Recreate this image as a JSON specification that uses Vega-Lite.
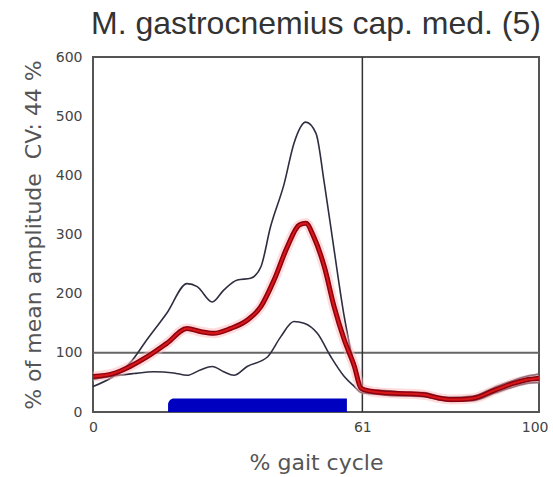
{
  "$schema": "https://vega.github.io/schema/vega-lite/v6.json",
  "width": 446,
  "height": 355,
  "autosize": "none",
  "padding": {"left": 93, "top": 57, "right": 14, "bottom": 65},
  "background": "white",
  "title": {"text": "M. gastrocnemius cap. med. (5)", "font": "Liberation Sans", "fontSize": 32, "fontWeight": "normal", "color": "#333333", "offset": 9, "anchor": "middle"},
  "config": {
    "view": {"stroke": "#555555", "strokeWidth": 2},
    "axis": {"grid": false, "ticks": false, "domain": false, "labelFont": "DejaVu Sans", "labelFontSize": 14, "labelColor": "#444444", "titleFont": "DejaVu Sans", "titleFontSize": 22, "titleFontWeight": "normal", "titleColor": "#555555"}
  },
  "datasets": {
    "curves": [
      {"s": "upper", "x": 0, "y": 43}, {"s": "upper", "x": 4.6, "y": 60}, {"s": "upper", "x": 8.4, "y": 83}, {"s": "upper", "x": 12.2, "y": 122}, {"s": "upper", "x": 16.7, "y": 167}, {"s": "upper", "x": 21.3, "y": 217}, {"s": "upper", "x": 23.6, "y": 212}, {"s": "upper", "x": 27, "y": 186}, {"s": "upper", "x": 29.6, "y": 206}, {"s": "upper", "x": 32.7, "y": 223}, {"s": "upper", "x": 35.7, "y": 226}, {"s": "upper", "x": 38, "y": 245}, {"s": "upper", "x": 40.2, "y": 313}, {"s": "upper", "x": 43.3, "y": 386}, {"s": "upper", "x": 45.5, "y": 454}, {"s": "upper", "x": 48.2, "y": 490}, {"s": "upper", "x": 50.5, "y": 471}, {"s": "upper", "x": 52.4, "y": 386}, {"s": "upper", "x": 54.6, "y": 274}, {"s": "upper", "x": 56.9, "y": 161}, {"s": "upper", "x": 59.2, "y": 77}, {"s": "upper", "x": 60.7, "y": 40}, {"s": "upper", "x": 63, "y": 37}, {"s": "upper", "x": 67, "y": 36}, {"s": "upper", "x": 71, "y": 33}, {"s": "upper", "x": 75, "y": 33}, {"s": "upper", "x": 78, "y": 27}, {"s": "upper", "x": 81, "y": 25}, {"s": "upper", "x": 86, "y": 27}, {"s": "upper", "x": 91, "y": 42}, {"s": "upper", "x": 95, "y": 53}, {"s": "upper", "x": 98, "y": 60}, {"s": "upper", "x": 101, "y": 64},
      {"s": "mean", "x": 0, "y": 60}, {"s": "mean", "x": 4.6, "y": 65}, {"s": "mean", "x": 8.4, "y": 77}, {"s": "mean", "x": 12.2, "y": 93}, {"s": "mean", "x": 16.7, "y": 116}, {"s": "mean", "x": 21.3, "y": 141}, {"s": "mean", "x": 24.3, "y": 136}, {"s": "mean", "x": 27.3, "y": 133}, {"s": "mean", "x": 31.1, "y": 141}, {"s": "mean", "x": 34.9, "y": 155}, {"s": "mean", "x": 38, "y": 178}, {"s": "mean", "x": 41, "y": 223}, {"s": "mean", "x": 44, "y": 279}, {"s": "mean", "x": 46.7, "y": 316}, {"s": "mean", "x": 48.2, "y": 319}, {"s": "mean", "x": 50, "y": 296}, {"s": "mean", "x": 52.4, "y": 245}, {"s": "mean", "x": 54.6, "y": 178}, {"s": "mean", "x": 56.9, "y": 122}, {"s": "mean", "x": 59.2, "y": 77}, {"s": "mean", "x": 60.7, "y": 40}, {"s": "mean", "x": 63, "y": 35}, {"s": "mean", "x": 67, "y": 32}, {"s": "mean", "x": 71, "y": 31}, {"s": "mean", "x": 75, "y": 29}, {"s": "mean", "x": 78, "y": 24}, {"s": "mean", "x": 81, "y": 21}, {"s": "mean", "x": 86, "y": 23}, {"s": "mean", "x": 91, "y": 37}, {"s": "mean", "x": 95, "y": 48}, {"s": "mean", "x": 98, "y": 54}, {"s": "mean", "x": 101, "y": 57},
      {"s": "lower", "x": 0, "y": 55}, {"s": "lower", "x": 4.6, "y": 61}, {"s": "lower", "x": 9.2, "y": 65}, {"s": "lower", "x": 13.7, "y": 68}, {"s": "lower", "x": 18.3, "y": 66}, {"s": "lower", "x": 21.3, "y": 62}, {"s": "lower", "x": 24.3, "y": 71}, {"s": "lower", "x": 27, "y": 77}, {"s": "lower", "x": 29.6, "y": 68}, {"s": "lower", "x": 31.9, "y": 62}, {"s": "lower", "x": 34.9, "y": 77}, {"s": "lower", "x": 39.5, "y": 93}, {"s": "lower", "x": 42.5, "y": 127}, {"s": "lower", "x": 45.5, "y": 153}, {"s": "lower", "x": 47.8, "y": 150}, {"s": "lower", "x": 50.8, "y": 133}, {"s": "lower", "x": 53.9, "y": 93}, {"s": "lower", "x": 56.9, "y": 60}, {"s": "lower", "x": 59.2, "y": 43}, {"s": "lower", "x": 60.7, "y": 33}, {"s": "lower", "x": 63, "y": 31}, {"s": "lower", "x": 67, "y": 28}, {"s": "lower", "x": 71, "y": 27}, {"s": "lower", "x": 75, "y": 26}, {"s": "lower", "x": 78, "y": 21}, {"s": "lower", "x": 81, "y": 18}, {"s": "lower", "x": 86, "y": 19}, {"s": "lower", "x": 91, "y": 32}, {"s": "lower", "x": 95, "y": 42}, {"s": "lower", "x": 98, "y": 48}, {"s": "lower", "x": 101, "y": 50}
    ],
    "bar": [{"start": 17, "end": 57.5, "low": 0, "high": 23}],
    "refs": [{"kind": "h", "v": 100}, {"kind": "v", "v": 61}]
  },
  "layer": [
    {
      "data": {"name": "bar"},
      "mark": {"type": "rect", "color": "#0000c0", "cornerRadiusTopLeft": 6},
      "encoding": {
        "x": {"field": "start", "type": "quantitative", "title": "% gait cycle", "scale": {"domain": [0, 101], "nice": false, "zero": false}, "axis": {"values": [0, 61, 100], "labelPadding": 8, "titlePadding": 18, "labelFlush": false}},
        "x2": {"field": "end"},
        "y": {"field": "low", "type": "quantitative", "title": "% of mean amplitude\u00a0 CV: 44 %", "scale": {"domain": [0, 600], "nice": false}, "axis": {"values": [0, 100, 200, 300, 400, 500, 600], "labelPadding": 11, "titlePadding": 10, "labelFlush": false}},
        "y2": {"field": "high"}
      }
    },
    {
      "data": {"name": "refs"},
      "transform": [{"filter": "datum.kind === 'h'"}],
      "mark": {"type": "rule", "color": "#666666", "strokeWidth": 2},
      "encoding": {"y": {"field": "v", "type": "quantitative", "title": "% of mean amplitude\u00a0 CV: 44 %"}}
    },
    {
      "data": {"name": "refs"},
      "transform": [{"filter": "datum.kind === 'v'"}],
      "mark": {"type": "rule", "color": "#333333", "strokeWidth": 1.5},
      "encoding": {"x": {"field": "v", "type": "quantitative", "title": "% gait cycle"}}
    },
    {
      "data": {"name": "curves"},
      "transform": [{"filter": "datum.s !== 'mean'"}],
      "mark": {"type": "line", "color": "#2e2e40", "strokeWidth": 1.6, "interpolate": "monotone"},
      "encoding": {"x": {"field": "x", "type": "quantitative", "title": "% gait cycle"}, "y": {"field": "y", "type": "quantitative", "title": "% of mean amplitude\u00a0 CV: 44 %"}, "detail": {"field": "s"}}
    },
    {
      "data": {"name": "curves"},
      "transform": [{"filter": "datum.s === 'mean'"}],
      "mark": {"type": "line", "color": "#ffb8b8", "strokeWidth": 10, "opacity": 0.5, "interpolate": "monotone"},
      "encoding": {"x": {"field": "x", "type": "quantitative", "title": "% gait cycle"}, "y": {"field": "y", "type": "quantitative", "title": "% of mean amplitude\u00a0 CV: 44 %"}}
    },
    {
      "data": {"name": "curves"},
      "transform": [{"filter": "datum.s === 'mean'"}],
      "mark": {"type": "line", "color": "#8c0010", "strokeWidth": 5, "interpolate": "monotone"},
      "encoding": {"x": {"field": "x", "type": "quantitative", "title": "% gait cycle"}, "y": {"field": "y", "type": "quantitative", "title": "% of mean amplitude\u00a0 CV: 44 %"}}
    },
    {
      "data": {"name": "curves"},
      "transform": [{"filter": "datum.s === 'mean'"}],
      "mark": {"type": "line", "color": "#d81818", "strokeWidth": 2, "interpolate": "monotone"},
      "encoding": {"x": {"field": "x", "type": "quantitative", "title": "% gait cycle"}, "y": {"field": "y", "type": "quantitative", "title": "% of mean amplitude\u00a0 CV: 44 %"}}
    }
  ]
}
